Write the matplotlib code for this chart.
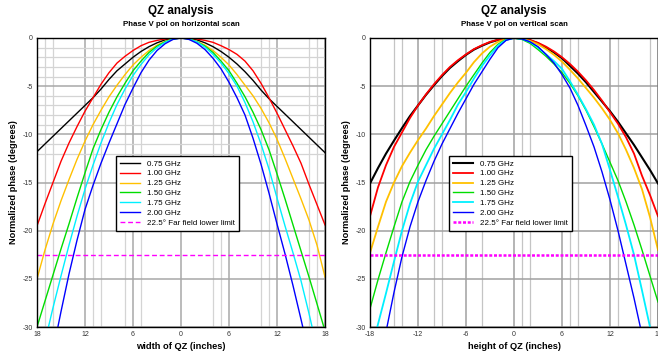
import matplotlib
matplotlib.use("Agg")
import matplotlib.pyplot as plt

plt.rcParams["font.family"] = ["Liberation Sans", "DejaVu Sans"]

# scan position (inches), one reading per inch
POSITIONS = list(range(-18, 19))
FREQ_LABELS = ["0.75 GHz", "1.00 GHz", "1.25 GHz", "1.50 GHz", "1.75 GHz", "2.00 GHz"]
LIMIT_LABEL = "22.5\u00b0 Far field lower limit"
FAR_FIELD_LIMIT = -22.5

Y_TICKS = [0, -5, -10, -15, -20, -25, -30]
X_TICKS = [-18, -12, -6, 0, 6, 12, 18]
X_LABELS_H = ["18", "12", "6", "0", "6", "12", "18"]
X_LABELS_V = ["-18", "-12", "-6", "0", "6", "12", "18"]

# horizontal scan (normalized phase, degrees)
H_075 = [-11.8, -11.0, -10.2, -9.4, -8.6, -7.8, -7.0, -6.2, -5.3, -4.3, -3.4, -2.7, -2.0, -1.4, -0.9, -0.5, -0.2, -0.05, 0,
         -0.05, -0.2, -0.5, -0.9, -1.4, -2.0, -2.7, -3.5, -4.4, -5.4, -6.3, -7.1, -7.9, -8.7, -9.5, -10.3, -11.1, -11.9]
H_100 = [-19.5, -17.2, -15.0, -12.8, -10.9, -9.2, -7.6, -6.2, -4.8, -3.6, -2.6, -1.9, -1.3, -0.8, -0.45, -0.25, -0.1, -0.03, 0,
         -0.03, -0.1, -0.25, -0.45, -0.8, -1.2, -1.7, -2.4, -3.4, -4.7, -6.2, -7.8, -9.5, -11.2, -13.0, -15.2, -17.3, -19.4]
H_125 = [-25.0, -22.0, -19.3, -16.9, -14.7, -12.6, -10.7, -9.0, -7.5, -6.1, -4.9, -3.8, -2.8, -2.0, -1.3, -0.75, -0.35, -0.1, 0,
         -0.1, -0.35, -0.75, -1.3, -2.0, -2.8, -3.8, -4.9, -6.0, -7.3, -8.8, -10.5, -12.5, -14.6, -16.7, -18.9, -21.5, -24.8]
H_150 = [-30.0, -27.3, -24.6, -21.9, -19.3, -16.6, -14.0, -11.5, -9.5, -7.7, -6.1, -4.7, -3.4, -2.4, -1.5, -0.85, -0.4, -0.1, 0,
         -0.1, -0.4, -0.85, -1.5, -2.4, -3.4, -4.7, -6.1, -7.7, -9.5, -11.6, -14.1, -16.7, -19.4, -22.1, -24.8, -27.6, -30.4]
H_175 = [-35.0, -31.5, -28.0, -24.7, -21.5, -18.5, -15.7, -13.2, -10.9, -8.8, -6.9, -5.3, -3.9, -2.75, -1.75, -1.0, -0.45, -0.1, 0,
         -0.1, -0.4, -0.95, -1.7, -2.6, -3.7, -5.0, -6.7, -8.7, -11.0, -13.6, -16.6, -19.5, -22.3, -25.2, -28.6, -32.2, -36.0]
H_200 = [-40.8, -36.6, -32.5, -28.4, -24.5, -21.0, -17.8, -15.3, -13.0, -10.9, -8.9, -6.9, -5.2, -3.6, -2.3, -1.3, -0.6, -0.15, 0,
         -0.15, -0.55, -1.2, -2.1, -3.2, -4.6, -6.2, -8.0, -10.4, -13.1, -16.1, -19.3, -22.4, -25.7, -29.2, -32.8, -36.5, -40.0]

# vertical scan (normalized phase, degrees)
V_075 = [-15.1, -13.5, -12.0, -10.65, -9.35, -8.1, -7.0, -5.9, -4.9, -3.95, -3.1, -2.4, -1.75, -1.2, -0.8, -0.45, -0.2, -0.05, 0,
         -0.05, -0.25, -0.55, -1.0, -1.5, -2.1, -2.9, -3.7, -4.6, -5.6, -6.6, -7.6, -8.7, -9.9, -11.1, -12.4, -13.7, -15.1]
V_100 = [-18.5, -15.5, -13.2, -11.3, -9.8, -8.3, -7.0, -5.85, -4.8, -3.85, -3.0, -2.3, -1.7, -1.15, -0.75, -0.4, -0.18, -0.04, 0,
         -0.05, -0.2, -0.5, -0.9, -1.4, -2.0, -2.7, -3.5, -4.4, -5.4, -6.5, -7.7, -8.9, -10.3, -12.0, -14.3, -16.3, -18.5]
V_125 = [-22.3, -19.6, -17.0, -15.0, -13.3, -11.9, -10.6, -9.4, -8.1, -6.9, -5.7, -4.6, -3.6, -2.5, -1.6, -0.9, -0.4, -0.1, 0,
         -0.08, -0.3, -0.65, -1.15, -1.75, -2.45, -3.3, -4.2, -5.2, -6.2, -7.3, -8.5, -9.9, -11.6, -13.5, -15.7, -18.6, -22.0]
V_150 = [-28.1, -25.1, -22.3, -19.6, -17.0, -14.9, -13.2, -11.6, -10.2, -8.9, -7.6, -6.3, -5.0, -3.8, -2.6, -1.5, -0.65, -0.15, 0,
         -0.15, -0.55, -1.2, -1.9, -2.7, -3.6, -4.7, -6.0, -7.5, -9.2, -11.0, -12.9, -14.8, -17.0, -19.4, -22.0, -24.7, -27.4]
V_175 = [-33.0, -29.7, -26.5, -23.2, -20.0, -17.2, -14.9, -13.2, -11.5, -10.0, -8.5, -6.9, -5.6, -4.2, -2.9, -1.8, -0.8, -0.2, 0,
         -0.1, -0.4, -1.0, -1.7, -2.4, -3.2, -4.5, -5.9, -7.4, -9.0, -11.0, -13.7, -16.5, -19.4, -22.5, -26.2, -30.0, -34.0]
V_200 = [-39.0, -34.7, -30.5, -26.4, -22.7, -19.6, -17.0, -14.8, -12.8, -11.0, -9.4, -7.8, -6.3, -4.8, -3.5, -2.2, -1.0, -0.25, 0,
         -0.1, -0.4, -0.9, -1.7, -2.6, -3.8, -5.2, -7.0, -9.1, -11.3, -13.9, -16.8, -20.0, -23.5, -27.0, -30.8, -34.8, -39.0]

# extra grid lines seen in the original plots
H_MINOR_X = [-17, -16, -11, -10, -7, -5, 4, 5, 10, 11, 16, 17]
H_MINOR_Y = [-1, -2, -3, -4, -6, -7, -8, -9, -11, -12]
V_MINOR_X = [-15, -14, -10, -9, -4, 1, 2, 7, 8, 13, 17]

COLORS = ["#000000", "#ff0000", "#ffc000", "#00dd00", "#00f0ff", "#0000ff"]
LIMIT_COLOR = "#ff00ff"


def draw_panel(ax, series, widths, xlabels, xlabel, minor_x, minor_y,
               limit_lw, limit_dash, major_grid, minor_grid):
    ax.set_xlim(-18, 18)
    ax.set_ylim(-30, 0)
    ax.set_xticks(X_TICKS)
    ax.set_xticklabels(xlabels)
    ax.set_yticks(Y_TICKS)
    ax.set_yticklabels([str(v) for v in Y_TICKS])
    ax.set_xticks(minor_x, minor=True)
    ax.set_yticks(minor_y, minor=True)
    ax.tick_params(which="both", length=0, labelsize=5, colors="#333333", pad=3)
    ax.grid(which="major", color=major_grid, lw=1.1)
    ax.grid(which="minor", color=minor_grid, lw=0.9)
    ax.set_axisbelow(True)
    for s in ax.spines.values():
        s.set_linewidth(1.0)
        s.set_color("black")

    for ys, lab, c, w in zip(series, FREQ_LABELS, COLORS, widths):
        ax.plot(POSITIONS, ys, color=c, lw=w, label=lab)
    ax.axhline(FAR_FIELD_LIMIT, color=LIMIT_COLOR, lw=limit_lw,
               ls=(0, limit_dash), label=LIMIT_LABEL)

    ax.set_xlabel(xlabel, fontsize=6.7, fontweight="bold", labelpad=3)
    ax.set_ylabel("Normalized phase (degrees)", fontsize=6.7,
                  fontweight="bold", labelpad=3)
    leg = ax.legend(loc="upper left", bbox_to_anchor=(0.274, 0.592),
                    borderaxespad=0, fontsize=5.8, handlelength=2.5,
                    handletextpad=0.9, labelspacing=0.28, borderpad=0.5,
                    fancybox=False, framealpha=1, edgecolor="black")
    leg.get_frame().set_linewidth(1.0)


fig = plt.figure(figsize=(6.58, 3.54), dpi=100)
ax1 = fig.add_axes([37 / 658, 1 - 327 / 354, 288 / 658, 289 / 354])
ax2 = fig.add_axes([370 / 658, 1 - 327 / 354, 288 / 658, 289 / 354])

draw_panel(ax1, [H_075, H_100, H_125, H_150, H_175, H_200],
           [1.0, 1.0, 1.0, 1.0, 1.0, 1.0], X_LABELS_H, "width of QZ (inches)",
           H_MINOR_X, H_MINOR_Y, 1.0, (3.5, 2), "#a8a8a8", "#d4d4d4")
draw_panel(ax2, [V_075, V_100, V_125, V_150, V_175, V_200],
           [1.5, 1.3, 1.3, 1.0, 1.3, 1.0], X_LABELS_V, "height of QZ (inches)",
           V_MINOR_X, [], 1.8, (1.2, 0.7), "#a0a0a0", "#c4c4c4")

for cx, sub in [(181 / 658, "Phase V pol on horizontal scan"),
                (514 / 658, "Phase V pol on vertical scan")]:
    fig.text(cx, 1 - 11 / 354, "QZ analysis", ha="center", va="center",
             fontsize=8.4, fontweight="bold")
    fig.text(cx, 1 - 24 / 354, sub, ha="center", va="center",
             fontsize=5.7, fontweight="bold")

fig.savefig("out.png", dpi=100)
